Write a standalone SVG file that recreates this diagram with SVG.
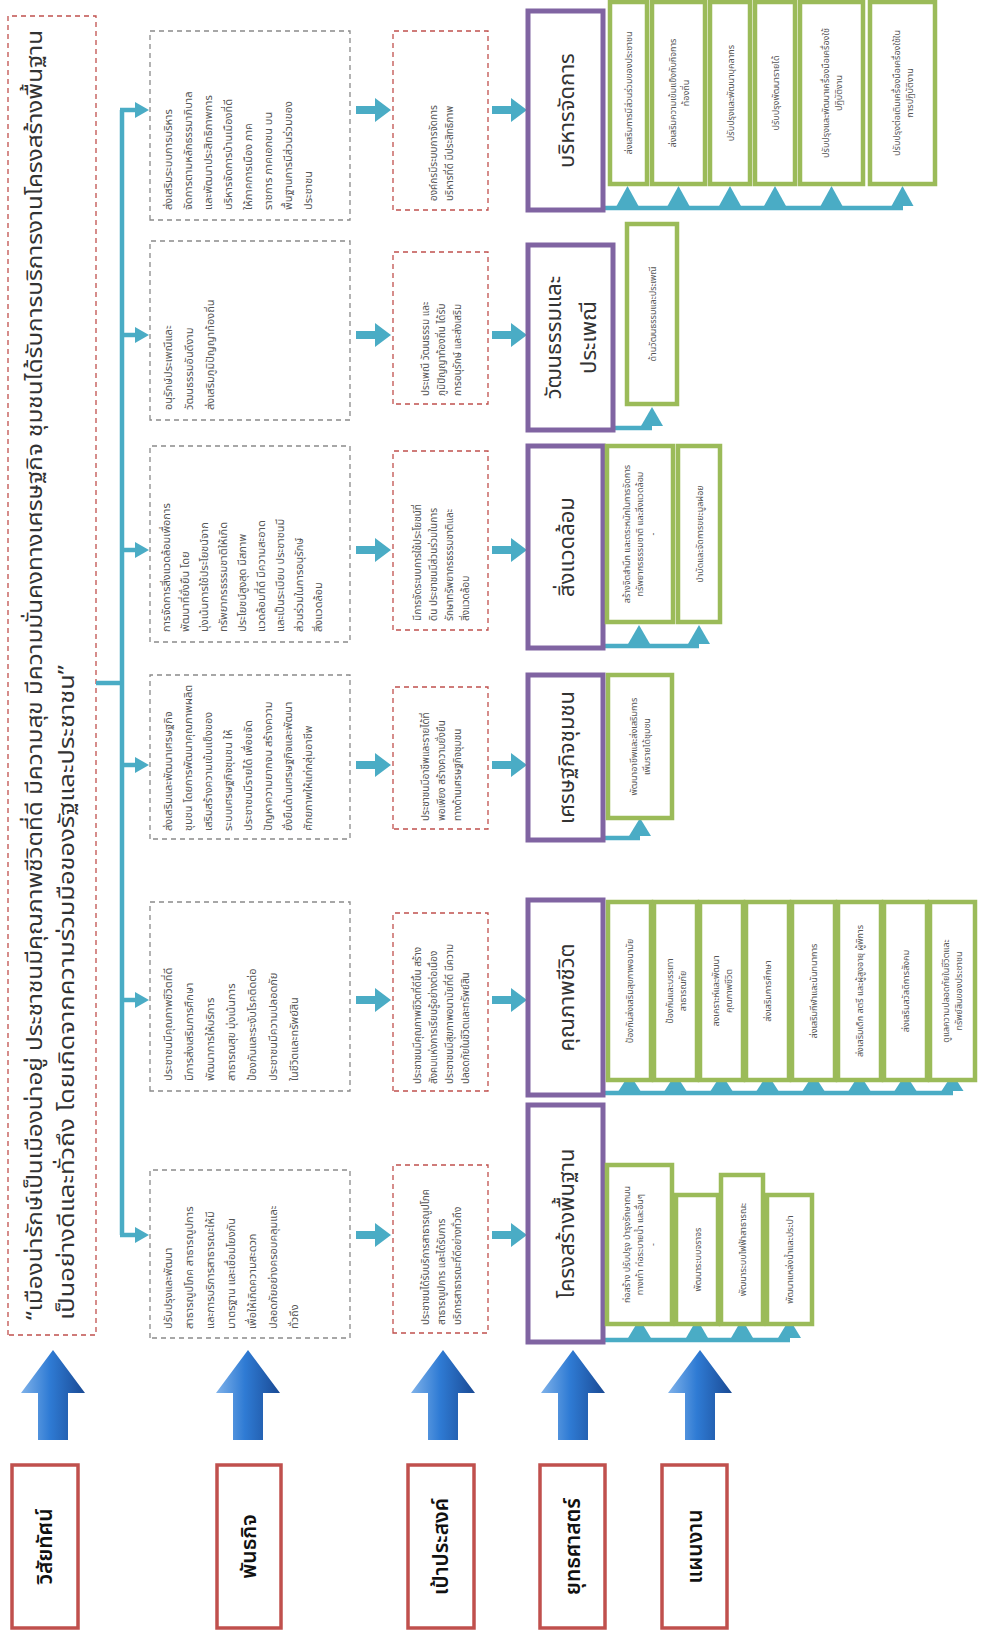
<svg xmlns="http://www.w3.org/2000/svg" width="986" height="1641" viewBox="0 0 986 1641">
<defs>
<linearGradient id="blueArrow" x1="0" y1="0" x2="0" y2="1">
<stop offset="0" stop-color="#7fb2ea"/><stop offset="0.45" stop-color="#2f7bd4"/><stop offset="1" stop-color="#1a4a94"/>
</linearGradient>
</defs>
<style>
text{font-family:"Noto Sans Thai","Noto Sans","DejaVu Sans",sans-serif;fill:#444}
.lbl rect{fill:#fff;stroke:#c0504d;stroke-width:3.5}
.lbl text{font-size:21px;fill:#111;text-anchor:middle;font-weight:600}
.vis rect{fill:#fff;stroke:#c0504d;stroke-width:1.3;stroke-dasharray:5 4}
.vis text{font-size:22px;fill:#333}
.mis rect{fill:#fff;stroke:#8a8a8a;stroke-width:1.3;stroke-dasharray:5 4}
.mis text{font-size:11px;fill:#555}
.goal rect{fill:#fff;stroke:#c0504d;stroke-width:1.3;stroke-dasharray:5 4}
.goal text{font-size:10px;fill:#555}
.str rect{fill:#fff;stroke:#8064a2;stroke-width:5}
.str text{font-size:22px;fill:#333;text-anchor:middle}
.plan rect{fill:#fff;stroke:#9bbb59;stroke-width:4.5}
.plan text{font-size:9px;fill:#555;text-anchor:middle}
.conn line{stroke:#4aacc5;stroke-width:4.5;fill:none}
.conn polygon,.conn path{fill:#4aacc5}
.up{fill:url(#blueArrow)}
</style>
<rect width="986" height="1641" fill="#fff"/>
<g transform="translate(0,1641) rotate(-90)">

<!-- level labels -->
<g id="label-vision" class="lbl"><rect x="13" y="12" width="163" height="66"/><text x="94.5" y="52">วิสัยทัศน์</text></g>
<g id="label-mission" class="lbl"><rect x="13" y="217" width="163" height="64"/><text x="94.5" y="256">พันธกิจ</text></g>
<g id="label-goal" class="lbl"><rect x="13" y="408" width="163" height="66"/><text x="94.5" y="448">เป้าประสงค์</text></g>
<g id="label-strategy" class="lbl"><rect x="13" y="540" width="163" height="65"/><text x="94.5" y="580">ยุทธศาสตร์</text></g>
<g id="label-plan" class="lbl"><rect x="13" y="662" width="163" height="65"/><text x="94.5" y="702">แผนงาน</text></g>

<!-- big up arrows -->
<g id="level-arrows">
<path class="up" d="M201,38 L248,38 L248,21 L291,53 L248,85 L248,68 L201,68 Z"/>
<path class="up" d="M201,233 L248,233 L248,216 L291,248 L248,280 L248,263 L201,263 Z"/>
<path class="up" d="M201,428 L248,428 L248,411 L291,443 L248,475 L248,458 L201,458 Z"/>
<path class="up" d="M201,558 L248,558 L248,541 L291,573 L248,605 L248,588 L201,588 Z"/>
<path class="up" d="M201,685 L248,685 L248,668 L291,700 L248,732 L248,715 L201,715 Z"/>
</g>

<!-- vision -->
<g id="vision" class="vis">
<rect x="306" y="8" width="1319" height="88"/>
<text x="321" y="42" textLength="1290" lengthAdjust="spacingAndGlyphs">“เมืองน่ารักษ์เป็นเมืองน่าอยู่ ประชาชนมีคุณภาพชีวิตที่ดี มีความสุข มีความมั่นคงทางเศรษฐกิจ ชุมชนได้รับการบริการงานโครงสร้างพื้นฐาน</text>
<text x="321" y="74" textLength="655" lengthAdjust="spacingAndGlyphs">เป็นอย่างดีและทั่วถึง โดยเกิดจากความร่วมมือของรัฐและประชาชน”</text>
</g>

<!-- connectors -->
<g id="connectors" class="conn">
<line x1="958" y1="96" x2="958" y2="122"/>
<line x1="406" y1="122" x2="1531" y2="122"/>
<line x1="406" y1="120" x2="406" y2="138"/><polygon points="398,135 414,135 406,149"/>
<line x1="641" y1="122" x2="641" y2="138"/><polygon points="633,135 649,135 641,149"/>
<line x1="876" y1="122" x2="876" y2="138"/><polygon points="868,135 884,135 876,149"/>
<line x1="1091" y1="122" x2="1091" y2="138"/><polygon points="1083,135 1099,135 1091,149"/>
<line x1="1306" y1="122" x2="1306" y2="138"/><polygon points="1298,135 1314,135 1306,149"/>
<line x1="1531" y1="120" x2="1531" y2="138"/><polygon points="1523,135 1539,135 1531,149"/>
<!-- mission to goal -->
<path d="M402,356 L410,356 L410,375 L418,375 L406,391 L394,375 L402,375 Z"/>
<path d="M637,356 L645,356 L645,375 L653,375 L641,391 L629,375 L637,375 Z"/>
<path d="M872,356 L880,356 L880,375 L888,375 L876,391 L864,375 L872,375 Z"/>
<path d="M1087,356 L1095,356 L1095,375 L1103,375 L1091,391 L1079,375 L1087,375 Z"/>
<path d="M1302,356 L1310,356 L1310,375 L1318,375 L1306,391 L1294,375 L1302,375 Z"/>
<path d="M1527,356 L1535,356 L1535,375 L1543,375 L1531,391 L1519,375 L1527,375 Z"/>
<!-- goal to strategy -->
<path d="M402,492 L410,492 L410,511 L418,511 L406,527 L394,511 L402,511 Z"/>
<path d="M637,492 L645,492 L645,511 L653,511 L641,527 L629,511 L637,511 Z"/>
<path d="M872,492 L880,492 L880,511 L888,511 L876,527 L864,511 L872,511 Z"/>
<path d="M1087,492 L1095,492 L1095,511 L1103,511 L1091,527 L1079,511 L1087,511 Z"/>
<path d="M1302,492 L1310,492 L1310,511 L1318,511 L1306,527 L1294,511 L1302,511 Z"/>
<path d="M1527,492 L1535,492 L1535,511 L1543,511 L1531,527 L1519,511 L1527,511 Z"/>
<!-- strategy to plans -->
<line x1="301" y1="603" x2="301" y2="790"/>
<polygon points="303,628 303,651 322,639.5"/><polygon points="303,686 303,708 322,697"/><polygon points="303,731 303,753 322,742"/><polygon points="303,778 303,801 322,789.5"/>
<line x1="548" y1="603" x2="548" y2="953"/>
<polygon points="550,618.5 550,640.5 567,629.5"/><polygon points="550,664.5 550,686.5 567,675.5"/><polygon points="550,710.5 550,732.5 567,721.5"/><polygon points="550,756.5 550,778.5 567,767.5"/><polygon points="550,802.5 550,824.5 567,813.5"/><polygon points="550,848.5 550,870.5 567,859.5"/><polygon points="550,894.5 550,916.5 567,905.5"/><polygon points="550,941.5 550,963.5 567,952.5"/>
<line x1="803" y1="603" x2="803" y2="640"/>
<polygon points="805,629 805,651 823,640"/>
<line x1="995" y1="603" x2="995" y2="699"/>
<polygon points="997,628 997,650 1016,639"/><polygon points="997,688 997,710 1016,699"/>
<line x1="1213" y1="611" x2="1213" y2="652"/>
<polygon points="1215,641 1215,663 1234,652"/>
<line x1="1433" y1="603" x2="1433" y2="903"/>
<polygon points="1435,616.5 1435,638.5 1455,627.5"/><polygon points="1435,667.5 1435,689.5 1455,678.5"/><polygon points="1435,719 1435,741 1455,730"/><polygon points="1435,764 1435,786 1455,775"/><polygon points="1435,820.5 1435,842.5 1455,831.5"/><polygon points="1435,891.5 1435,913.5 1455,902.5"/>
</g>

<!-- missions -->
<g id="mission-1" class="mis"><rect x="303" y="150" width="168" height="200"/>
<text x="312" y="172">ปรับปรุงและพัฒนา</text>
<text x="312" y="193">สาธารณูปโภค สาธารณูปการ</text>
<text x="312" y="214">และการบริการสาธารณะให้มี</text>
<text x="312" y="235">มาตรฐาน และเชื่อมโยงกัน</text>
<text x="312" y="256">เพื่อให้เกิดความสะดวก</text>
<text x="312" y="277">ปลอดภัยอย่างครอบคลุมและ</text>
<text x="312" y="298">ทั่วถึง</text></g>
<g id="mission-2" class="mis"><rect x="550" y="150" width="189" height="200"/>
<text x="560" y="172">ประชาชนมีคุณภาพชีวิตที่ดี</text>
<text x="560" y="193">มีการส่งเสริมการศึกษา</text>
<text x="560" y="214">พัฒนาการให้บริการ</text>
<text x="560" y="235">สาธารณสุข มุ่งเน้นการ</text>
<text x="560" y="256">ป้องกันและระงับโรคติดต่อ</text>
<text x="560" y="277">ประชาชนมีความปลอดภัย</text>
<text x="560" y="298">ในชีวิตและทรัพย์สิน</text></g>
<g id="mission-3" class="mis"><rect x="802" y="150" width="164" height="200"/>
<text x="810" y="172">ส่งเสริมและพัฒนาเศรษฐกิจ</text>
<text x="810" y="192">ชุมชน โดยการพัฒนาคุณภาพผลิต</text>
<text x="810" y="212">เสริมสร้างความเข้มแข็งของ</text>
<text x="810" y="232">ระบบเศรษฐกิจชุมชน ให้</text>
<text x="810" y="252">ประชาชนมีรายได้ เพื่อขจัด</text>
<text x="810" y="272">ปัญหาความยากจน สร้างความ</text>
<text x="810" y="292">ยั่งยืนด้านเศรษฐกิจและพัฒนา</text>
<text x="810" y="312">ศักยภาพให้แก่กลุ่มอาชีพ</text></g>
<g id="mission-4" class="mis"><rect x="999" y="150" width="196" height="200"/>
<text x="1009" y="170">การจัดการสิ่งแวดล้อมเพื่อการ</text>
<text x="1009" y="189">พัฒนาที่ยั่งยืน โดย</text>
<text x="1009" y="208">มุ่งเน้นการใช้ประโยชน์จาก</text>
<text x="1009" y="227">ทรัพยากรธรรมชาติให้เกิด</text>
<text x="1009" y="246">ประโยชน์สูงสุด มีสภาพ</text>
<text x="1009" y="265">แวดล้อมที่ดี มีความสะอาด</text>
<text x="1009" y="284">และเป็นระเบียบ ประชาชนมี</text>
<text x="1009" y="303">ส่วนร่วมในการอนุรักษ์</text>
<text x="1009" y="322">สิ่งแวดล้อม</text></g>
<g id="mission-5" class="mis"><rect x="1221" y="150" width="179" height="200"/>
<text x="1231" y="172">อนุรักษ์ประเพณีและ</text>
<text x="1231" y="193">วัฒนธรรมอันดีงาม</text>
<text x="1231" y="214">ส่งเสริมภูมิปัญญาท้องถิ่น</text></g>
<g id="mission-6" class="mis"><rect x="1421" y="150" width="189" height="200"/>
<text x="1431" y="172">ส่งเสริมระบบการบริหาร</text>
<text x="1431" y="192">จัดการตามหลักธรรมาภิบาล</text>
<text x="1431" y="212">และพัฒนาประสิทธิภาพการ</text>
<text x="1431" y="232">บริหารจัดการบ้านเมืองที่ดี</text>
<text x="1431" y="252">ให้ภาคการเมือง ภาค</text>
<text x="1431" y="272">ราชการ ภาคเอกชน บน</text>
<text x="1431" y="292">พื้นฐานการมีส่วนร่วมของ</text>
<text x="1431" y="312">ประชาชน</text></g>

<!-- goals -->
<g id="goal-1" class="goal"><rect x="308" y="393" width="168" height="95"/>
<text x="316" y="428.5">ประชาชนได้รับบริการสาธารณูปโภค</text>
<text x="316" y="444.5">สาธารณูปการ และได้รับการ</text>
<text x="316" y="460.5">บริการสาธารณะที่ดีอย่างทั่วถึง</text></g>
<g id="goal-2" class="goal"><rect x="550" y="393" width="178" height="95"/>
<text x="557" y="420.5">ประชาชนมีคุณภาพชีวิตที่ดีขึ้น สร้าง</text>
<text x="557" y="436.5">สังคมแห่งการเรียนรู้อย่างต่อเนื่อง</text>
<text x="557" y="452.5">ประชาชนมีสุขภาพอนามัยที่ดี มีความ</text>
<text x="557" y="468.5">ปลอดภัยในชีวิตและทรัพย์สิน</text></g>
<g id="goal-3" class="goal"><rect x="812" y="393" width="142" height="95"/>
<text x="820" y="428.5">ประชาชนมีอาชีพและรายได้ที่</text>
<text x="820" y="444.5">พอเพียง สร้างความยั่งยืน</text>
<text x="820" y="460.5">ทางด้านเศรษฐกิจชุมชน</text></g>
<g id="goal-4" class="goal"><rect x="1011" y="393" width="179" height="95"/>
<text x="1020" y="420.5">มีการจัดระบบการใช้ประโยชน์ที่</text>
<text x="1020" y="436.5">ดิน ประชาชนมีส่วนร่วมในการ</text>
<text x="1020" y="452.5">รักษาทรัพยากรธรรมชาติและ</text>
<text x="1020" y="468.5">สิ่งแวดล้อม</text></g>
<g id="goal-5" class="goal"><rect x="1237" y="393" width="152" height="95"/>
<text x="1245" y="428.5">ประเพณี วัฒนธรรม และ</text>
<text x="1245" y="444.5">ภูมิปัญญาท้องถิ่น ได้รับ</text>
<text x="1245" y="460.5">การอนุรักษ์ และส่งเสริม</text></g>
<g id="goal-6" class="goal"><rect x="1431" y="393" width="179" height="95"/>
<text x="1440" y="436.5">องค์กรมีระบบการจัดการ</text>
<text x="1440" y="452.5">บริหารที่ดี มีประสิทธิภาพ</text></g>

<!-- strategies -->
<g id="strategy-1" class="str"><rect x="299" y="528" width="237" height="75"/><text x="417.5" y="574">โครงสร้างพื้นฐาน</text></g>
<g id="strategy-2" class="str"><rect x="546" y="528" width="195" height="75"/><text x="643.5" y="574">คุณภาพชีวิต</text></g>
<g id="strategy-3" class="str"><rect x="801" y="528" width="165" height="75"/><text x="883.5" y="574">เศรษฐกิจชุมชน</text></g>
<g id="strategy-4" class="str"><rect x="993" y="528" width="202" height="75"/><text x="1094" y="574">สิ่งแวดล้อม</text></g>
<g id="strategy-5" class="str"><rect x="1211" y="528" width="185" height="85"/><text x="1303.5" y="561">วัฒนธรรมและ</text><text x="1303.5" y="596">ประเพณี</text></g>
<g id="strategy-6" class="str"><rect x="1431" y="528" width="199" height="75"/><text x="1530.5" y="574">บริหารจัดการ</text></g>

<!-- plans: strategy 1 -->
<g id="plan-1-1" class="plan"><rect x="317" y="607" width="159" height="65"/><text x="396.5" y="630">ก่อสร้าง ปรับปรุง บำรุงรักษาถนน</text><text x="396.5" y="643">ทางเท้า ท่อระบายน้ำ และอื่นๆ</text><text x="396.5" y="656">-</text></g>
<g id="plan-1-2" class="plan"><rect x="317" y="676" width="129" height="42"/><text x="381.5" y="700.5">พัฒนาระบบจราจร</text></g>
<g id="plan-1-3" class="plan"><rect x="317" y="721" width="149" height="42"/><text x="391.5" y="745.5">พัฒนาระบบไฟฟ้าสาธารณะ</text></g>
<g id="plan-1-4" class="plan"><rect x="317" y="767" width="129" height="45"/><text x="381.5" y="793">พัฒนาแหล่งน้ำและประปา</text></g>
<!-- plans: strategy 2 -->
<g id="plan-2-1" class="plan"><rect x="561" y="608" width="178" height="43"/><text x="650" y="633">ป้องกันส่งเสริมสุขภาพอนามัย</text></g>
<g id="plan-2-2" class="plan"><rect x="561" y="654" width="178" height="43"/><text x="650" y="672.5">ป้องกันและบรรเทา</text><text x="650" y="685.5">สาธารณภัย</text></g>
<g id="plan-2-3" class="plan"><rect x="561" y="700" width="178" height="43"/><text x="650" y="718.5">สงเคราะห์และพัฒนา</text><text x="650" y="731.5">คุณภาพชีวิต</text></g>
<g id="plan-2-4" class="plan"><rect x="561" y="746" width="178" height="43"/><text x="650" y="771">ส่งเสริมการศึกษา</text></g>
<g id="plan-2-5" class="plan"><rect x="561" y="792" width="178" height="43"/><text x="650" y="817">ส่งเสริมกีฬาและนันทนาการ</text></g>
<g id="plan-2-6" class="plan"><rect x="561" y="838" width="178" height="43"/><text x="650" y="863">ส่งเสริมเด็ก สตรี และผู้สูงอายุ ผู้พิการ</text></g>
<g id="plan-2-7" class="plan"><rect x="561" y="884" width="178" height="43"/><text x="650" y="909">ส่งเสริมสวัสดิการสังคม</text></g>
<g id="plan-2-8" class="plan"><rect x="561" y="930" width="178" height="45"/><text x="650" y="949">ดูแลความปลอดภัยในชีวิตและ</text><text x="650" y="962">ทรัพย์สินของประชาชน</text></g>
<!-- plans: strategy 3 -->
<g id="plan-3-1" class="plan"><rect x="823" y="608" width="143" height="64"/><text x="894.5" y="637">พัฒนาอาชีพและส่งเสริมการ</text><text x="894.5" y="650">เพิ่มรายได้ชุมชน</text></g>
<!-- plans: strategy 4 -->
<g id="plan-4-1" class="plan"><rect x="1019" y="607" width="176" height="66"/><text x="1107" y="630">สร้างจิตสำนึก และตระหนักในการจัดการ</text><text x="1107" y="643">ทรัพยากรธรรมชาติ และสิ่งแวดล้อม</text><text x="1107" y="656">-</text></g>
<g id="plan-4-2" class="plan"><rect x="1019" y="678" width="176" height="42"/><text x="1107" y="702.5">บำบัดและจัดการขยะมูลฝอย</text></g>
<!-- plans: strategy 5 -->
<g id="plan-5-1" class="plan"><rect x="1237" y="627" width="180" height="50"/><text x="1327" y="655.5">ด้านวัฒนธรรมและประเพณี</text></g>
<!-- plans: strategy 6 -->
<g id="plan-6-1" class="plan"><rect x="1457" y="610" width="182" height="37"/><text x="1548" y="631.5">ส่งเสริมการมีส่วนร่วมของประชาชน</text></g>
<g id="plan-6-2" class="plan"><rect x="1457" y="652" width="182" height="53"/><text x="1548" y="675.5">ส่งเสริมความเข้มแข็งกับกิจการ</text><text x="1548" y="688.5">ท้องถิ่น</text></g>
<g id="plan-6-3" class="plan"><rect x="1457" y="710" width="182" height="40"/><text x="1548" y="733.5">ปรับปรุงและพัฒนาบุคลากร</text></g>
<g id="plan-6-4" class="plan"><rect x="1457" y="755" width="182" height="40"/><text x="1548" y="778.5">ปรับปรุงพัฒนารายได้</text></g>
<g id="plan-6-5" class="plan"><rect x="1457" y="800" width="182" height="63"/><text x="1548" y="828.5">ปรับปรุงและพัฒนาเครื่องมือเครื่องใช้</text><text x="1548" y="841.5">ปฏิบัติงาน</text></g>
<g id="plan-6-6" class="plan"><rect x="1457" y="870" width="182" height="65"/><text x="1548" y="899.5">ปรับปรุงต่อเติมเครื่องมือเครื่องใช้ใน</text><text x="1548" y="912.5">การปฏิบัติงาน</text></g>
</g>
</svg>
